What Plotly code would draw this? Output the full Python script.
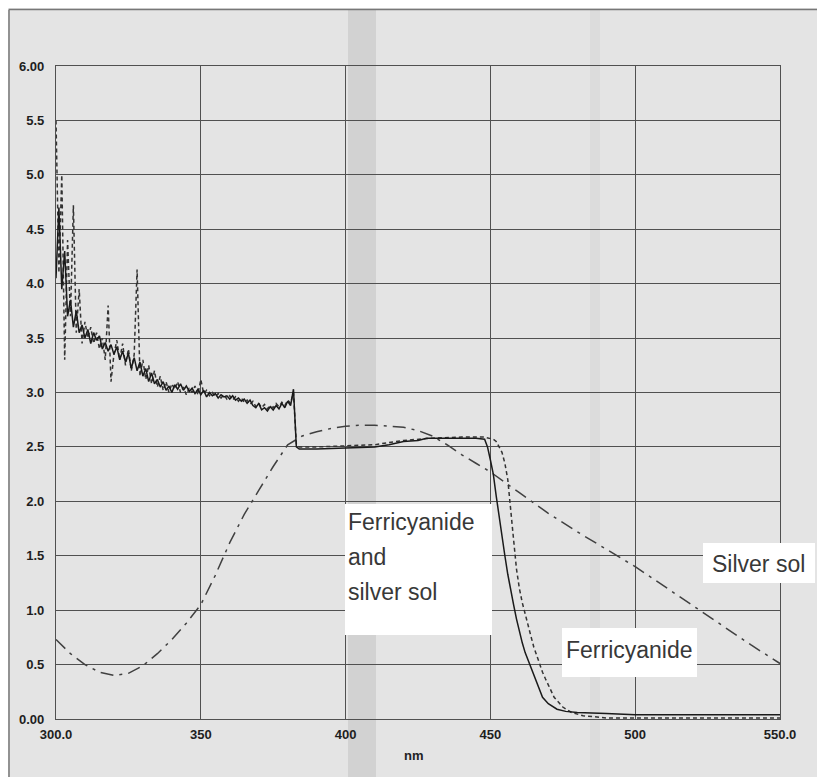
import plotly.graph_objects as go

# ---------------- data ----------------
# Ferricyanide and silver sol (solid)
mix_nm = list(range(300, 384)) + [384, 390, 400, 410, 415, 420, 425, 428, 430, 435, 440, 445, 448,
                                  449, 450, 451, 452, 453, 454, 455, 456, 457, 458, 459, 460, 461, 462,
                                  463, 464, 466, 468, 470, 473, 476, 480, 490, 500, 520, 550]
mix_abs = [4.05, 4.70, 3.95, 4.30, 3.70, 3.85, 3.60, 3.75, 3.55, 3.62,
           3.50, 3.58, 3.45, 3.55, 3.48, 3.52, 3.40, 3.46, 3.38, 3.44,
           3.35, 3.42, 3.30, 3.38, 3.28, 3.36, 3.22, 3.32, 3.20, 3.28,
           3.15, 3.22, 3.10, 3.18, 3.08, 3.12, 3.05, 3.10, 3.02, 3.06,
           3.00, 3.07, 3.03, 3.08, 3.02, 3.06, 3.01, 3.04, 2.99, 3.03,
           2.98, 3.02, 2.96, 3.00, 2.97, 2.99, 2.95, 2.98, 2.96, 2.97,
           2.94, 2.97, 2.93, 2.95, 2.92, 2.94, 2.90, 2.93, 2.88, 2.86,
           2.90, 2.84, 2.86, 2.83, 2.87, 2.84, 2.88, 2.85, 2.90, 2.86,
           2.92, 2.88, 3.03, 2.50,
           2.48, 2.48, 2.49, 2.50, 2.52, 2.55, 2.56, 2.58, 2.58, 2.58, 2.58, 2.58, 2.57,
           2.50, 2.38, 2.25, 2.05, 1.85, 1.67, 1.50, 1.33, 1.18, 1.05, 0.92, 0.80, 0.70, 0.61,
           0.54, 0.48, 0.33, 0.20, 0.14, 0.09, 0.07, 0.06, 0.05, 0.04, 0.04, 0.04]

# Ferricyanide (dashed)
fc_nm = list(range(300, 384)) + [384, 390, 400, 410, 420, 430, 440, 448, 451, 452, 454, 455, 456,
                                 457, 458, 459, 460, 461, 462, 463, 464, 465, 466, 467, 468, 469, 470,
                                 472, 475, 478, 482, 490, 550]
fc_abs = [5.50, 4.10, 5.00, 3.30, 4.40, 3.70, 4.72, 3.55, 3.95, 3.45,
          3.65, 3.50, 3.60, 3.45, 3.55, 3.40, 3.50, 3.30, 3.80, 3.10,
          3.35, 3.48, 3.30, 3.45, 3.25, 3.40, 3.20, 3.35, 4.13, 3.15,
          3.30, 3.12, 3.25, 3.08, 3.20, 3.05, 3.15, 3.02, 3.10, 3.00,
          3.08, 3.03, 3.10, 3.00, 3.05, 2.98, 3.04, 3.00, 3.06, 2.98,
          3.12, 2.99, 3.02, 2.97, 3.00, 2.96, 2.99, 2.95, 2.98, 2.94,
          2.97, 2.93, 2.96, 2.92, 2.95, 2.91, 2.93, 2.89, 2.92, 2.87,
          2.90, 2.86, 2.89, 2.85, 2.88, 2.86, 2.90, 2.87, 2.91, 2.88,
          2.93, 2.90, 3.00, 2.52,
          2.50, 2.50, 2.51, 2.52, 2.56, 2.58, 2.59, 2.59, 2.57, 2.55, 2.45, 2.35, 2.20,
          1.95, 1.65, 1.38, 1.20, 1.07, 0.96, 0.86, 0.76, 0.66, 0.58, 0.50, 0.43, 0.37, 0.31,
          0.20, 0.11, 0.06, 0.03, 0.01, 0.01]

# Silver sol (dash-dot)
ag_nm = [300, 305, 310, 315, 320, 325, 330, 335, 340, 345, 350, 355, 360, 365, 370, 375, 380,
         385, 390, 395, 400, 405, 410, 415, 420, 425, 430, 435, 440, 445, 450, 460, 470, 480,
         490, 500, 510, 520, 530, 540, 550]
ag_abs = [0.73, 0.60, 0.50, 0.43, 0.40, 0.42, 0.49, 0.60, 0.73, 0.88, 1.05, 1.32, 1.62, 1.88,
          2.10, 2.32, 2.52, 2.60, 2.64, 2.67, 2.69, 2.70, 2.70, 2.69, 2.68, 2.65, 2.60, 2.52,
          2.43, 2.35, 2.27, 2.08, 1.89, 1.72, 1.56, 1.40, 1.22, 1.04, 0.86, 0.68, 0.51]

x_ticks = [300, 350, 400, 450, 500, 550]
x_tick_text = ["300.0", "350", "400", "450", "500", "550.0"]
y_ticks = [0, 0.5, 1, 1.5, 2, 2.5, 3, 3.5, 4, 4.5, 5, 5.5, 6]
y_tick_text = ["0.00", "0.5", "1.0", "1.5", "2.0", "2.5", "3.0", "3.5", "4.0", "4.5", "5.0", "5.5", "6.00"]

# ---------------- layout constants ----------------
OFF = 8                      # page body margin that precedes the figure
W, H = 825 - OFF, 777 - OFF
ML, MT = 56 - OFF, 66 - OFF
PW, PH = 724, 653
MR, MB = W - ML - PW, H - MT - PH


def px(x):  # page pixel -> paper x
    return (x - OFF - ML) / PW


def py(y):  # page pixel -> paper y
    return (MT + PH - (y - OFF)) / PH


fig = go.Figure()
fig.add_trace(go.Scatter(x=ag_nm, y=ag_abs, mode="lines", name="Silver sol",
                         line=dict(color="#404040", width=1.5, dash="13px,6px,3px,6px")))
fig.add_trace(go.Scatter(x=fc_nm, y=fc_abs, mode="lines", name="Ferricyanide",
                         line=dict(color="#333333", width=1.5, dash="4px,3px")))
fig.add_trace(go.Scatter(x=mix_nm, y=mix_abs, mode="lines", name="Ferricyanide and silver sol",
                         line=dict(color="#1a1a1a", width=1.5)))

shapes = [
    # scanner streaks
    dict(type="rect", xref="paper", yref="paper", x0=px(348), x1=px(376), y0=py(777), y1=py(9),
         fillcolor="rgba(0,0,0,0.08)", line=dict(width=0), layer="below"),
    dict(type="rect", xref="paper", yref="paper", x0=px(590), x1=px(600), y0=py(777), y1=py(9),
         fillcolor="rgba(0,0,0,0.03)", line=dict(width=0), layer="below"),
    # page border (top / left)
    dict(type="line", xref="paper", yref="paper", x0=px(9), x1=px(825), y0=py(9.5), y1=py(9.5),
         line=dict(color="#777777", width=1.5)),
    dict(type="line", xref="paper", yref="paper", x0=px(9), x1=px(9), y0=py(9.5), y1=py(777),
         line=dict(color="#777777", width=1.5)),
    # white label boxes
    dict(type="rect", xref="paper", yref="paper", x0=px(345), x1=px(492), y0=py(635), y1=py(504),
         fillcolor="white", line=dict(width=0), layer="above"),
    dict(type="rect", xref="paper", yref="paper", x0=px(562), x1=px(697), y0=py(677), y1=py(628),
         fillcolor="white", line=dict(width=0), layer="above"),
    dict(type="rect", xref="paper", yref="paper", x0=px(703), x1=px(815), y0=py(583), y1=py(543),
         fillcolor="white", line=dict(width=0), layer="above"),
]

lab_font = dict(family="Liberation Sans, Arial, sans-serif", size=23, color="#383838")
annotations = [
    dict(xref="paper", yref="paper", x=px(346), y=py(522), text="Ferricyanide", showarrow=False,
         xanchor="left", yanchor="middle", font=lab_font),
    dict(xref="paper", yref="paper", x=px(346), y=py(557), text="and", showarrow=False,
         xanchor="left", yanchor="middle", font=lab_font),
    dict(xref="paper", yref="paper", x=px(346), y=py(592), text="silver sol", showarrow=False,
         xanchor="left", yanchor="middle", font=lab_font),
    dict(xref="paper", yref="paper", x=px(629), y=py(650), text="Ferricyanide", showarrow=False,
         xanchor="center", yanchor="middle", font=lab_font),
    dict(xref="paper", yref="paper", x=px(758), y=py(564), text="Silver sol", showarrow=False,
         xanchor="center", yanchor="middle", font=lab_font),
    dict(xref="paper", yref="paper", x=px(414), y=py(755), text="<b>nm</b>", showarrow=False,
         xanchor="center", yanchor="middle",
         font=dict(family="Liberation Sans, Arial, sans-serif", size=13, color="#222222")),
]

tick_font = dict(family="Liberation Sans, Arial, sans-serif", size=13, color="#1e1e1e")
fig.update_layout(
    width=W, height=H,
    margin=dict(l=ML, r=MR, t=MT, b=MB, pad=0),
    paper_bgcolor="#e4e4e4",
    plot_bgcolor="rgba(0,0,0,0)",
    showlegend=False,
    shapes=shapes,
    annotations=annotations,
    xaxis=dict(range=[300, 550], tickvals=x_ticks, ticktext=["<b>%s</b>" % t for t in x_tick_text],
               showgrid=True, gridcolor="#505050", gridwidth=1.2, zeroline=False,
               showline=True, mirror=True, linecolor="#505050", linewidth=1.2,
               ticks="", tickfont=tick_font, ticklabelstandoff=3),
    yaxis=dict(range=[0, 6], tickvals=y_ticks, ticktext=["<b>%s</b>" % t for t in y_tick_text],
               showgrid=True, gridcolor="#505050", gridwidth=1.2, zeroline=False,
               showline=True, mirror=True, linecolor="#505050", linewidth=1.2,
               ticks="", tickfont=tick_font, ticklabelstandoff=8),
)

fig.write_html("out.html")
